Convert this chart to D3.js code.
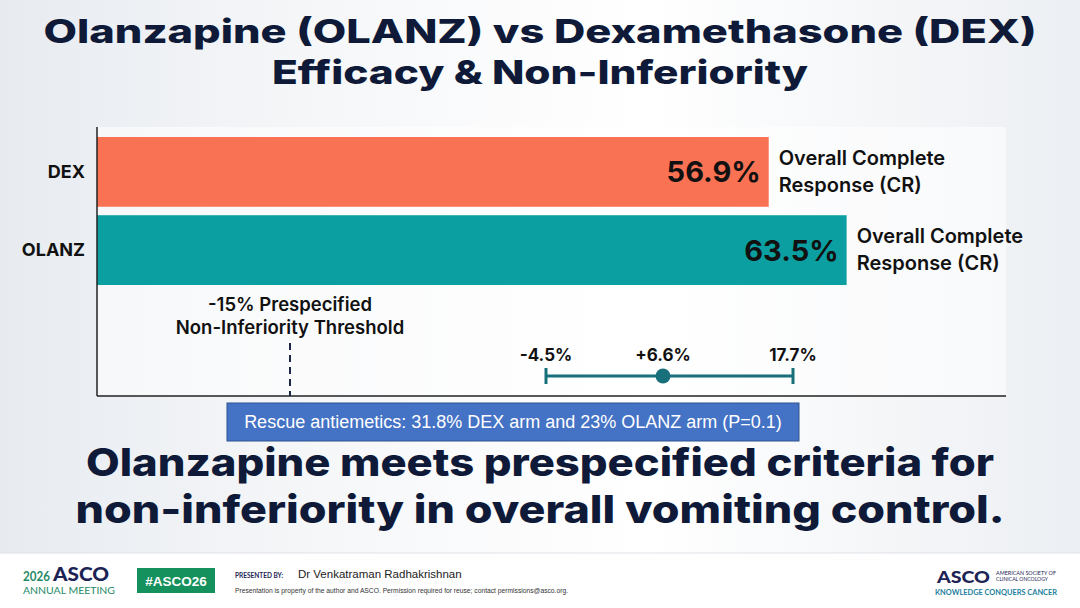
<!DOCTYPE html>
<html>
<head>
<meta charset="utf-8">
<script src="https://cdn.jsdelivr.net/npm/d3@7"></script>
<style>
  html, body { margin: 0; padding: 0; background: #fff; }
  svg { display: block; }
</style>
</head>
<body>
<svg id="chart"></svg>
<script>
// data
var arms = ['DEX', 'OLANZ'];
var crValues = [56.9, 63.5];
var crLabels = ['56.9%', '63.5%'];
var outcomeLines = ['Overall Complete', 'Response (CR)'];
var ciValues = [-4.5, 6.6, 17.7];
var ciLabels = ['-4.5%', '+6.6%', '17.7%'];
var niMargin = -15;
var niLines = ['-15% Prespecified', 'Non-Inferiority Threshold'];
var titleLines = ['Olanzapine (OLANZ) vs Dexamethasone (DEX)', 'Efficacy & Non-Inferiority'];
var takeawayLines = ['Olanzapine meets prespecified criteria for', 'non-inferiority in overall vomiting control.'];
var rescueNote = 'Rescue antiemetics: 31.8% DEX arm and 23% OLANZ arm (P=0.1)';

var width = 1080;
var height = 608;
var navy = '#0f1a38';
var headFont = 'Inter, "Open Sans", sans-serif';

var svg = d3.select('#chart').attr('width', width).attr('height', height);

// background
var defs = svg.append('defs');
var bg = defs.append('linearGradient').attr('id', 'bg');
bg.append('stop').attr('offset', '0%').attr('stop-color', '#e7ebf0');
bg.append('stop').attr('offset', '30%').attr('stop-color', '#f6f7f9');
bg.append('stop').attr('offset', '60%').attr('stop-color', '#ffffff');
bg.append('stop').attr('offset', '100%').attr('stop-color', '#eceff3');
svg.append('rect').attr('width', width).attr('height', height).attr('fill', 'url(#bg)');

// plot area is white
svg.append('rect')
  .attr('x', 97).attr('y', 127)
  .attr('width', 909).attr('height', 269)
  .attr('fill', '#ffffff').attr('opacity', 0.55);

// title
svg.selectAll('.title')
  .data(titleLines)
  .enter()
  .append('text')
  .attr('class', 'title')
  .attr('x', width / 2)
  .attr('y', (d, i) => 43 + i * 41)
  .attr('text-anchor', 'middle')
  .attr('font-family', headFont)
  .attr('font-weight', 800)
  .attr('font-size', 33)
  .attr('fill', navy)
  .attr('textLength', (d, i) => [993, 536][i])
  .attr('lengthAdjust', 'spacingAndGlyphs')
  .text((d) => d);

// scales
var xScale = d3.scaleLinear().domain([0, 77]).range([97, 1006]);
var yScale = d3.scaleBand().domain(arms).range([137, 285]).paddingInner(0.108);
var colorScale = d3.scaleOrdinal().domain(arms).range(['#fa7254', '#0c9fa1']);
// the interval row is drawn on its own (not to scale on the slide)
var ciScale = d3.scaleLinear()
  .domain([niMargin].concat(ciValues))
  .range([290, 546, 663, 793]);

// bars
svg.selectAll('.bar')
  .data(arms)
  .enter()
  .append('rect')
  .attr('class', 'bar')
  .attr('x', xScale(0))
  .attr('y', (d) => yScale(d))
  .attr('width', (d, i) => xScale(crValues[i]) - xScale(0))
  .attr('height', yScale.bandwidth())
  .attr('fill', (d) => colorScale(d));

// value labels inside bar ends
svg.selectAll('.val')
  .data(arms)
  .enter()
  .append('text')
  .attr('class', 'val')
  .attr('x', (d, i) => xScale(crValues[i]) - 8)
  .attr('y', (d) => yScale(d) + yScale.bandwidth() / 2)
  .attr('dy', '0.36em')
  .attr('text-anchor', 'end')
  .attr('font-family', headFont)
  .attr('font-weight', 700)
  .attr('font-size', 29)
  .attr('fill', '#111')
  .text((d, i) => crLabels[i]);

// outcome labels to the right of bars
arms.forEach(function (arm, i) {
  svg.append('g')
    .selectAll('text')
    .data(outcomeLines)
    .enter()
    .append('text')
    .attr('x', xScale(crValues[i]) + 10)
    .attr('y', (d, j) => yScale(arm) + yScale.bandwidth() / 2 - 7 + j * 27)
    .attr('font-family', headFont)
    .attr('font-weight', 600)
    .attr('font-size', 20)
    .attr('fill', '#111')
    .text((d) => d);
});

// category axis labels
var yAxis = d3.axisLeft(yScale).tickSize(0).tickPadding(12);
var yg = svg.append('g')
  .attr('transform', 'translate(' + xScale(0) + ',0)')
  .call(yAxis);
yg.select('.domain').remove();
yg.selectAll('text')
  .attr('font-family', headFont)
  .attr('font-weight', 700)
  .attr('font-size', 18)
  .attr('fill', '#111');

// axis lines
svg.append('line')
  .attr('x1', xScale(0)).attr('x2', xScale(0))
  .attr('y1', 127).attr('y2', 396)
  .attr('stroke', '#222').attr('stroke-width', 1.5);
svg.append('line')
  .attr('x1', xScale(0)).attr('x2', xScale.range()[1])
  .attr('y1', 396).attr('y2', 396)
  .attr('stroke', '#222').attr('stroke-width', 1.5);

// non-inferiority threshold
svg.append('line')
  .attr('x1', ciScale(niMargin)).attr('x2', ciScale(niMargin))
  .attr('y1', 343).attr('y2', 396)
  .attr('stroke', '#1c2748')
  .attr('stroke-width', 2)
  .attr('stroke-dasharray', '7,5');
svg.selectAll('.ni')
  .data(niLines)
  .enter()
  .append('text')
  .attr('class', 'ni')
  .attr('x', ciScale(niMargin))
  .attr('y', (d, i) => 311 + i * 23)
  .attr('text-anchor', 'middle')
  .attr('font-family', headFont)
  .attr('font-weight', 600)
  .attr('font-size', 18.5)
  .attr('fill', '#111')
  .text((d) => d);

// confidence interval
var ciY = 376;
var ciColor = '#17707a';
svg.append('line')
  .attr('x1', ciScale(ciValues[0])).attr('x2', ciScale(ciValues[2]))
  .attr('y1', ciY).attr('y2', ciY)
  .attr('stroke', ciColor).attr('stroke-width', 3);
svg.selectAll('.whisker')
  .data([ciValues[0], ciValues[2]])
  .enter()
  .append('line')
  .attr('class', 'whisker')
  .attr('x1', (d) => ciScale(d)).attr('x2', (d) => ciScale(d))
  .attr('y1', ciY - 8).attr('y2', ciY + 8)
  .attr('stroke', ciColor).attr('stroke-width', 3);
svg.append('circle')
  .attr('cx', ciScale(ciValues[1]))
  .attr('cy', ciY)
  .attr('r', 7.5)
  .attr('fill', ciColor);
svg.selectAll('.cilab')
  .data(ciValues)
  .enter()
  .append('text')
  .attr('class', 'cilab')
  .attr('x', (d) => ciScale(d))
  .attr('y', 361)
  .attr('text-anchor', 'middle')
  .attr('font-family', headFont)
  .attr('font-weight', 700)
  .attr('font-size', 17)
  .attr('fill', '#111')
  .text((d, i) => ciLabels[i]);

// rescue note box
svg.append('rect')
  .attr('x', 227).attr('y', 403)
  .attr('width', 572).attr('height', 38)
  .attr('fill', '#4472c4')
  .attr('stroke', '#2f528f')
  .attr('stroke-width', 1);
svg.append('text')
  .attr('x', 513).attr('y', 428)
  .attr('text-anchor', 'middle')
  .attr('font-family', '"Liberation Sans", Arial, sans-serif')
  .attr('font-size', 18)
  .attr('fill', '#ffffff')
  .text(rescueNote);

// takeaway
svg.selectAll('.take')
  .data(takeawayLines)
  .enter()
  .append('text')
  .attr('class', 'take')
  .attr('x', width / 2)
  .attr('y', (d, i) => 476 + i * 47)
  .attr('text-anchor', 'middle')
  .attr('font-family', headFont)
  .attr('font-weight', 800)
  .attr('font-size', 38)
  .attr('fill', navy)
  .attr('textLength', (d, i) => [908, 929][i])
  .attr('lengthAdjust', 'spacingAndGlyphs')
  .text((d) => d);

// footer band
svg.append('rect')
  .attr('x', 0).attr('y', 553)
  .attr('width', width).attr('height', height - 553)
  .attr('fill', '#ffffff');
svg.append('line')
  .attr('x1', 0).attr('x2', width)
  .attr('y1', 553).attr('y2', 553)
  .attr('stroke', '#dde1e6');

var green = '#1f8a66';
var foot = svg.append('g').attr('font-family', 'Lato, "Open Sans", sans-serif');
foot.append('text').attr('x', 23).attr('y', 581)
  .attr('font-size', 13).attr('font-weight', 700).attr('fill', green)
  .attr('textLength', 27).attr('lengthAdjust', 'spacingAndGlyphs').text('2026');
foot.append('text').attr('x', 53).attr('y', 581)
  .attr('font-size', 18).attr('font-weight', 900).attr('fill', '#1c2455')
  .attr('textLength', 56).attr('lengthAdjust', 'spacingAndGlyphs').text('ASCO');
foot.append('text').attr('x', 23).attr('y', 593.5)
  .attr('font-size', 10).attr('fill', green)
  .attr('textLength', 92).attr('lengthAdjust', 'spacingAndGlyphs').text('ANNUAL MEETING');

foot.append('rect').attr('x', 137).attr('y', 568)
  .attr('width', 78).attr('height', 25).attr('fill', '#14915c');
foot.append('text').attr('x', 176).attr('y', 586)
  .attr('text-anchor', 'middle')
  .attr('font-family', '"Liberation Sans", Arial, sans-serif')
  .attr('font-size', 13.5).attr('font-weight', 700).attr('fill', '#fff').text('#ASCO26');

foot.append('text').attr('x', 235).attr('y', 578)
  .attr('font-size', 6.5).attr('font-weight', 700).attr('fill', '#1c2455').text('PRESENTED BY:');
foot.append('text').attr('x', 298).attr('y', 578)
  .attr('font-family', '"Liberation Sans", Arial, sans-serif')
  .attr('font-size', 11.5).attr('fill', '#222').text('Dr Venkatraman Radhakrishnan');
foot.append('text').attr('x', 235).attr('y', 593)
  .attr('font-family', '"Liberation Sans", Arial, sans-serif')
  .attr('font-size', 6.5).attr('fill', '#333')
  .attr('textLength', 333).attr('lengthAdjust', 'spacingAndGlyphs')
  .text('Presentation is property of the author and ASCO. Permission required for reuse; contact permissions@asco.org.');

foot.append('text').attr('x', 937).attr('y', 583)
  .attr('font-size', 17).attr('font-weight', 900).attr('fill', '#1c2455')
  .attr('textLength', 53).attr('lengthAdjust', 'spacingAndGlyphs').text('ASCO');
foot.append('text').attr('x', 996).attr('y', 575)
  .attr('font-size', 5).attr('fill', '#1c2455')
  .attr('textLength', 60).attr('lengthAdjust', 'spacingAndGlyphs').text('AMERICAN SOCIETY OF');
foot.append('text').attr('x', 996).attr('y', 581)
  .attr('font-size', 5).attr('fill', '#1c2455')
  .attr('textLength', 52).attr('lengthAdjust', 'spacingAndGlyphs').text('CLINICAL ONCOLOGY');
foot.append('text').attr('x', 935).attr('y', 595)
  .attr('font-size', 7).attr('font-weight', 700).attr('fill', '#1e7fa0')
  .attr('textLength', 122).attr('lengthAdjust', 'spacingAndGlyphs')
  .text('KNOWLEDGE CONQUERS CANCER');
</script>
</body>
</html>
